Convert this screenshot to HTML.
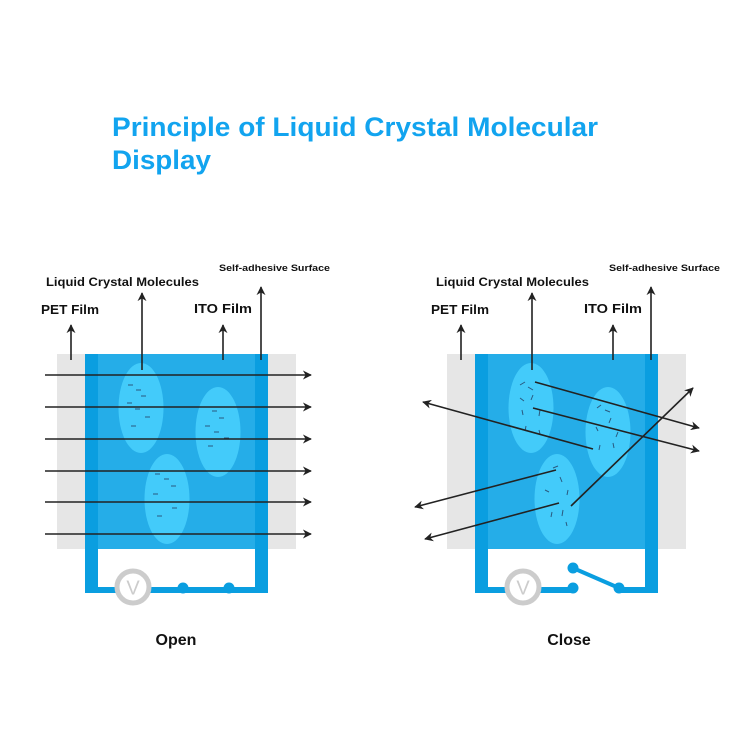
<!DOCTYPE html>
<html><head><meta charset="utf-8"><style>html,body{margin:0;padding:0;background:#fff}svg{display:block}</style></head>
<body>
<svg width="750" height="750" viewBox="0 0 750 750" xmlns="http://www.w3.org/2000/svg" font-family="Liberation Sans, sans-serif">
<defs>
<marker id="ah" viewBox="0 0 10 10" refX="9" refY="5" markerWidth="9" markerHeight="9" markerUnits="userSpaceOnUse" orient="auto"><path d="M0,0 L10,5 L0,10 L3,5 Z" fill="#222"/></marker>
<g id="panel">
<rect x="57" y="354" width="239" height="195" fill="#e6e6e6"/>
<rect x="85" y="354" width="183" height="239" fill="#0a9ee0"/>
<rect x="98" y="354" width="157" height="195" fill="#25ade8"/>
<rect x="98" y="549" width="157" height="38" fill="#fff"/>
<ellipse cx="141" cy="408" rx="22.5" ry="45" fill="#43cbfa"/>
<ellipse cx="218" cy="432" rx="22.5" ry="45" fill="#43cbfa"/>
<ellipse cx="167" cy="499" rx="22.5" ry="45" fill="#43cbfa"/>
<g stroke="#222" stroke-width="1.6" marker-end="url(#ah)">
<line x1="71" y1="360" x2="71" y2="325"/>
<line x1="142" y1="370" x2="142" y2="293"/>
<line x1="223" y1="360" x2="223" y2="325"/>
<line x1="261" y1="360" x2="261" y2="287"/>
</g>
<g font-weight="bold" fill="#111">
<text x="46" y="286" font-size="12" textLength="153" lengthAdjust="spacingAndGlyphs">Liquid Crystal Molecules</text>
<text x="41" y="314" font-size="13" textLength="58" lengthAdjust="spacingAndGlyphs">PET Film</text>
<text x="194" y="313" font-size="13" textLength="58" lengthAdjust="spacingAndGlyphs">ITO Film</text>
<text x="219" y="271" font-size="9.5" textLength="111" lengthAdjust="spacingAndGlyphs">Self-adhesive Surface</text>
</g>
</g>
<g id="volt">
<circle cx="133" cy="587" r="16" fill="#fff" stroke="#ccc" stroke-width="5"/>
<text x="133" y="594.5" font-size="20" fill="#ccc" text-anchor="middle">V</text>
</g>
</defs>
<text x="112" y="136" font-size="27" font-weight="bold" fill="#12a4ef" textLength="486" lengthAdjust="spacingAndGlyphs">Principle of Liquid Crystal Molecular</text>
<text x="112" y="169" font-size="27" font-weight="bold" fill="#12a4ef" textLength="99" lengthAdjust="spacingAndGlyphs">Display</text>

<use href="#panel"/>
<use href="#volt"/>
<g fill="#0a9ee0"><circle cx="183" cy="588" r="5.5"/><circle cx="229" cy="588" r="5.5"/></g>
<g stroke="#2a5a80" stroke-width="1">
<path d="M128,385h5M136,390h5M141,396h5M127,403h5M135,409h5M145,417h5M131,426h5"/>
<path d="M212,411h5M219,418h5M205,426h5M214,432h5M224,438h5M208,446h5"/>
<path d="M155,474h5M164,479h5M171,486h5M153,494h5M172,508h5M157,516h5"/>
</g>
<g stroke="#222" stroke-width="1.6" marker-end="url(#ah)">
<line x1="45" y1="375" x2="311" y2="375"/>
<line x1="45" y1="407" x2="311" y2="407"/>
<line x1="45" y1="439" x2="311" y2="439"/>
<line x1="45" y1="471" x2="311" y2="471"/>
<line x1="45" y1="502" x2="311" y2="502"/>
<line x1="45" y1="534" x2="311" y2="534"/>
</g>
<text x="176" y="645" font-size="16" font-weight="bold" fill="#111" text-anchor="middle">Open</text>

<use href="#panel" x="390"/>
<rect x="574" y="586" width="44" height="8" fill="#fff"/>
<use href="#volt" x="390"/>
<line x1="573" y1="568" x2="619" y2="588" stroke="#0a9ee0" stroke-width="4"/>
<g fill="#0a9ee0"><circle cx="573" cy="588" r="5.5"/><circle cx="619" cy="588" r="5.5"/><circle cx="573" cy="568" r="5.5"/></g>
<g stroke="#2a5a80" stroke-width="1">
<path d="M520,385l5,-3M528,387l5,3M520,398l4,3M533,395l-2,5M523,415l-1,-5M540,410l-1,6M526,426l-1,5M539,430l1,4"/>
<path d="M597,408l4,-3M605,410l5,2M611,418l-2,5M596,427l2,4M618,432l-2,5M600,445l-1,5M613,443l1,5"/>
<path d="M553,468l5,-2M560,477l2,5M545,490l4,2M568,490l-1,5M552,512l-1,5M563,510l-1,6M566,522l1,4"/>
</g>
<g stroke="#222" stroke-width="1.6" marker-end="url(#ah)">
<line x1="535" y1="382" x2="699" y2="428"/>
<line x1="533" y1="408" x2="699" y2="451"/>
<line x1="593" y1="449" x2="423" y2="402"/>
<line x1="556" y1="470" x2="415" y2="507"/>
<line x1="559" y1="503" x2="425" y2="539"/>
<line x1="571" y1="506" x2="693" y2="388"/>
</g>
<text x="569" y="645" font-size="16" font-weight="bold" fill="#111" text-anchor="middle">Close</text>
</svg>
</body></html>
